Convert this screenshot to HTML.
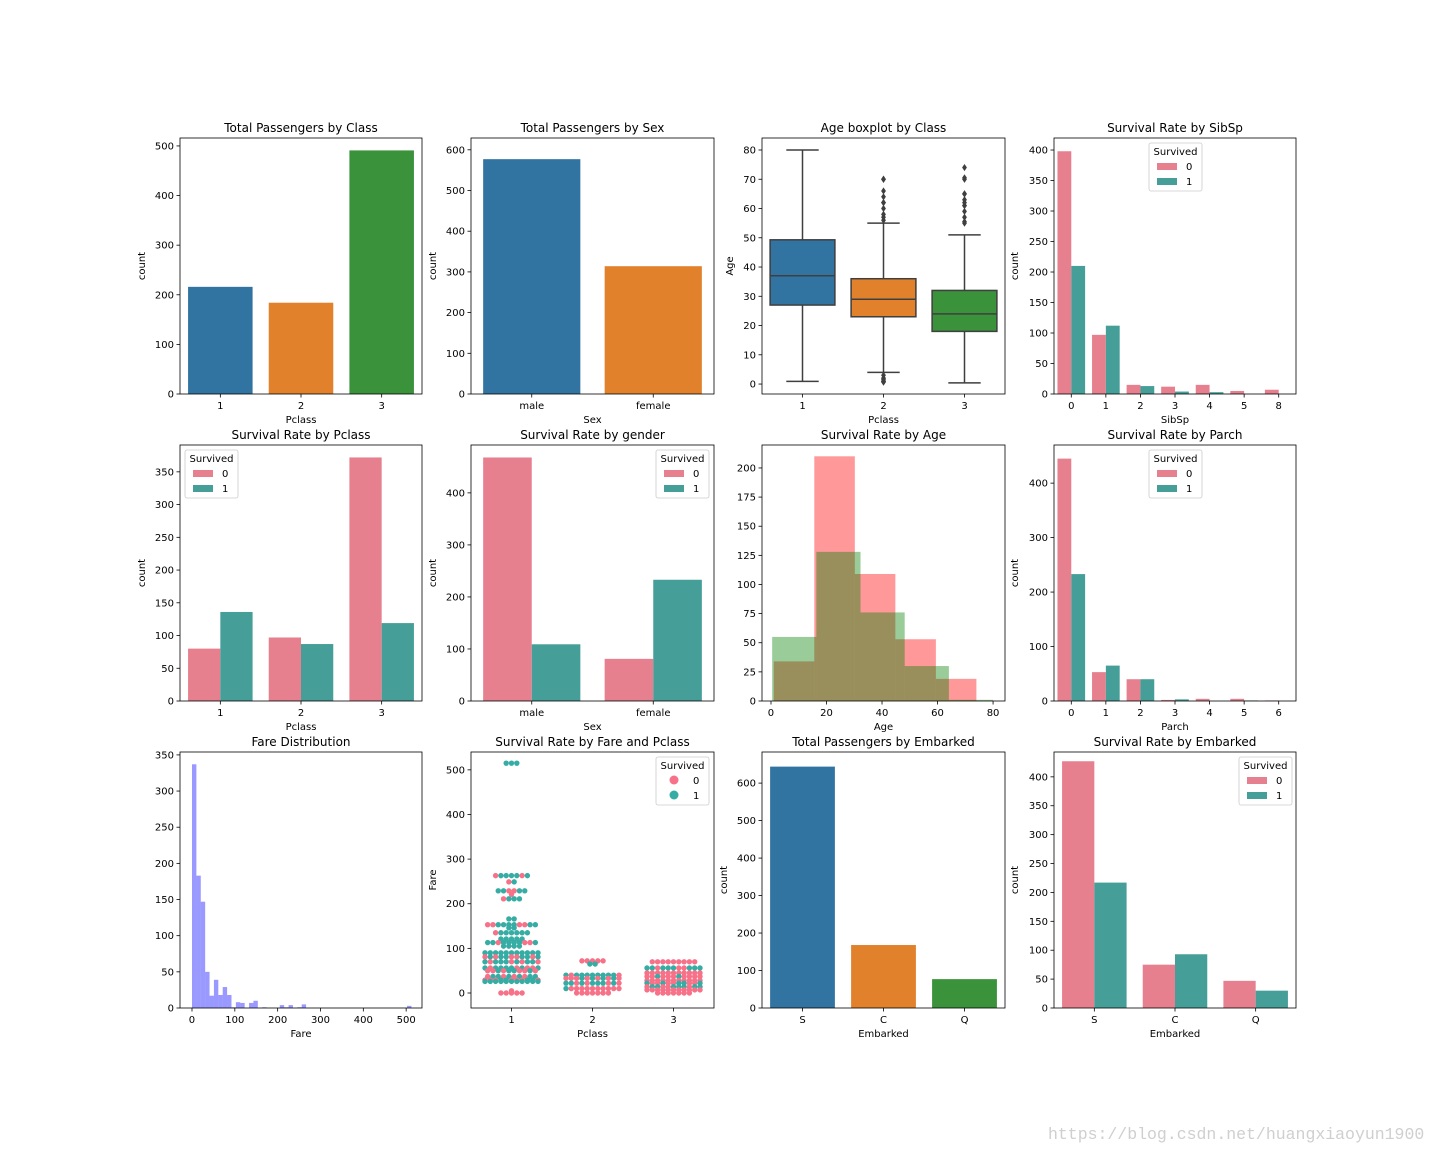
<!DOCTYPE html>
<html><head><meta charset="utf-8"><title>Titanic EDA</title>
<style>html,body{margin:0;padding:0;background:#fff}svg{display:block}text{font-family:"DejaVu Sans","Liberation Sans",sans-serif}</style>
</head><body>
<svg id="fig" xmlns="http://www.w3.org/2000/svg" width="1440" height="1152" viewBox="0 0 1440 1152">
<rect width="1440" height="1152" fill="#fff"/>
<text x="1048" y="1139" font-size="16.5" fill="#cfcfcf" style="font-family:'Liberation Mono',monospace">https://blog.csdn.net/huangxiaoyun1900</text>
</svg>
<script>
// ---------- data ----------
const classCats=['1','2','3'];
const classCounts=[216,184,491];
const sexCats=['male','female'];
const sexCounts=[577,314];
const boxQ1=[27,23,18];
const boxMed=[37,29,24];
const boxQ3=[49.3,36,32];
const boxLo=[0.92,4,0.42];
const boxHi=[80,55,51];
const box1Out=[];
const box2Out=[0.67,0.83,0.92,1,1.5,2,2,3,56,57,58,60,62,62,64,66,70,70];
const box3Out=[55,55.5,57,59,61,61,62,63,65,65,70,70.5,74];
const sibCats=['0','1','2','3','4','5','8'];
const sibDied=[398,97,15,12,15,5,7];
const sibSurv=[210,112,13,4,3,0,0];
const pclDied=[80,97,372];
const pclSurv=[136,87,119];
const sexDied=[468,81];
const sexSurv=[109,233];
const ageDiedRange=[1,74];
const ageDiedCounts=[34,210,109,53,19];
const ageSurvRange=[0.42,80];
const ageSurvCounts=[55,128,76,30,1];
const parchCats=['0','1','2','3','4','5','6'];
const parchDied=[445,53,40,2,4,4,1];
const parchSurv=[233,65,40,3,0,1,0];
const fareRange=[0,512.33];
const fareCounts=[337,183,147,50,17,39,18,29,18,1,8,7,0,7,10,0,1,0,0,0,4,1,4,0,1,5,0,0,0,0,0,0,0,0,0,0,0,0,0,0,0,0,0,0,0,0,0,0,0,3];
const swarm1Fares=[515,263,249,229,221,211,166,153,146,135,121,113,105,90,81,70,56,50,37,29,26,5,0];
const swarm1Surv=['111','0111101','01','110011','0','0111','11','0011110011','11','0111111','11111','1101111001','1111','11111111111','01011001101','10111010110','10111101001','0010110010','0110101011','00011000110','11111111111','0','00000'];
const swarm2Fares=[72,65,40,33,22,10,0];
const swarm2Surv=['00000','11','10111111110','00010101010','11010111010','10000000000','0000000'];
const swarm3Fares=[70,56,45,37,28,22,14,7,0];
const swarm3Surv=['000000000','11011100111','00000000000','00100010000','00000000000','10010011001','01100111011','00000000000','0000000'];
const embCats=['S','C','Q'];
const embCounts=[644,168,77];
const embDied=[427,75,47];
const embSurv=[217,93,30];

// ---------- helpers ----------
const svg=document.getElementById('fig');
const NS='http://www.w3.org/2000/svg';
const C3=['#3274a1','#e1812c','#3a923a'];
const PINK='#e6808f',TEAL='#459f98',SPINK='#f77189',STEAL='#36ada4';
function E(tag,at,par){const e=document.createElementNS(NS,tag);for(const k in at)e.setAttribute(k,at[k]);(par||svg).appendChild(e);return e;}
function T(txt,at,par){const e=E('text',at,par);e.textContent=txt;return e;}
const COLS=[[180,422],[471,714],[762,1005],[1054,1296]];
const ROWS=[[138,394],[445,701],[752,1008]];
function axes(name,c,r,xd,yd){
  const x0=COLS[c][0],x1=COLS[c][1],y0=ROWS[r][0],y1=ROWS[r][1];
  const g=E('g',{});
  
  
  return {g,x0,x1,y0,y1,sx:v=>x0+(v-xd[0])/(xd[1]-xd[0])*(x1-x0),sy:v=>y1-(v-yd[0])/(yd[1]-yd[0])*(y1-y0)};
}
function frame(a,title,xlab,ylab,yt,xtv,xtl,yoff){
  const g=a.g;
  yt.forEach(v=>{const y=a.sy(v);
    const tk=E('line',{x1:a.x0-3.5,x2:a.x0,y1:y,y2:y,stroke:'#000','stroke-width':0.8},g);
    
    
    const tl=T(String(v),{x:a.x0-6,y:y+3.5,'font-size':10,'text-anchor':'end'},g);
    
    });
  xtv.forEach((v,i)=>{const x=a.sx(v);
    const tk=E('line',{x1:x,x2:x,y1:a.y1,y2:a.y1+3.5,stroke:'#000','stroke-width':0.8},g);
    
    
    const tl=T(xtl[i],{x:x,y:a.y1+15,'font-size':10,'text-anchor':'middle'},g);
    
    });
  const fr=E('rect',{x:a.x0,y:a.y0,width:a.x1-a.x0,height:a.y1-a.y0,fill:'none',stroke:'#000','stroke-width':0.8},g);
  
  
  const t=T(title,{x:(a.x0+a.x1)/2,y:a.y0-6,'font-size':12,'text-anchor':'middle'},g);
  
  
  const xl=T(xlab,{x:(a.x0+a.x1)/2,y:a.y1+29,'font-size':10,'text-anchor':'middle'},g);
  
  
  const yx=a.x0-yoff,yy=(a.y0+a.y1)/2;
  const yl=T(ylab,{x:yx,y:yy,'font-size':10,'text-anchor':'middle',transform:'rotate(-90 '+yx+' '+yy+')'},g);
  
  
}
function rect(a,x0,x1,y0,y1,fill,name,op){
  const r=E('rect',{x:Math.min(a.sx(x0),a.sx(x1)),y:a.sy(y1),width:Math.abs(a.sx(x1)-a.sx(x0)),height:Math.max(0,a.sy(y0)-a.sy(y1)),fill:fill},a.g);
  if(op)r.setAttribute('fill-opacity',op);
  
  
  return r;
}
function legend(a,x,y,circ){
  const g=E('g',{},a.g);
  
  
  const b=E('rect',{x:x,y:y,width:53,height:48,rx:2,fill:'#fff','fill-opacity':0.8,stroke:'#ccc','stroke-width':0.8},g);
  
  
  const t=T('Survived',{x:x+26.5,y:y+12,'font-size':10,'text-anchor':'middle'},g);
  
  
  [[circ?SPINK:PINK,'0'],[circ?STEAL:TEAL,'1']].forEach((d,i)=>{
    const yy=y+23+i*15;
    let m;
    if(circ){m=E('circle',{cx:x+18,cy:yy,r:4.5,fill:d[0]},g);}
    else{m=E('rect',{x:x+8,y:yy-3,width:20,height:7,fill:d[0]},g);}
    
    
    const l=T(d[1],{x:x+37,y:yy+4,'font-size':10},g);
    
    
  });
}
function idx(n){return Array.from({length:n},(_,i)=>i);}
function countChart(name,c,r,cats,vals,ymax,yt,title,xlab,yoff){
  const a=axes(name,c,r,[-0.5,cats.length-0.5],[0,ymax]);
  vals.forEach((v,i)=>rect(a,i-0.4,i+0.4,0,v,C3[i%3],'bar-'+cats[i]));
  frame(a,title,xlab,'count',yt,idx(cats.length),cats,yoff);
  return a;
}
function hueChart(name,c,r,cats,d0,d1,ymax,yt,title,xlab,yoff,lx,ly){
  const a=axes(name,c,r,[-0.5,cats.length-0.5],[0,ymax]);
  cats.forEach((k,i)=>{rect(a,i-0.4,i,0,d0[i],PINK,'bar-'+k+'-died');rect(a,i,i+0.4,0,d1[i],TEAL,'bar-'+k+'-survived');});
  frame(a,title,xlab,'count',yt,idx(cats.length),cats,yoff);
  legend(a,lx,ly,false);
  return a;
}
function hist(a,range,counts,fill,name){
  const w=(range[1]-range[0])/counts.length;
  counts.forEach((v,i)=>{if(v>0)rect(a,range[0]+i*w,range[0]+(i+1)*w,0,v,fill,name+'-'+i,0.4);});
}
function rng(a,b,s){const o=[];for(let v=a;v<=b+1e-9;v+=s)o.push(v);return o;}

// Row 1
countChart('class-count-chart',0,0,classCats,classCounts,516,rng(0,500,100),'Total Passengers by Class','Pclass',35);
countChart('sex-count-chart',1,0,sexCats,sexCounts,629,rng(0,600,100),'Total Passengers by Sex','Sex',35);
(function(){
  const a=axes('age-boxplot-chart',2,0,[-0.5,2.5],[-3.4,84.1]);
  const outs=[box1Out,box2Out,box3Out];
  classCats.forEach((k,i)=>{
    const L='#3f3f3f';
    const cx=a.sx(i),hw=a.sx(0.4)-a.sx(0),cw=hw*0.5;
    const w1=E('line',{x1:cx,x2:cx,y1:a.sy(boxLo[i]),y2:a.sy(boxQ1[i]),stroke:L,'stroke-width':1.5},a.g);
    
    
    const w2=E('line',{x1:cx,x2:cx,y1:a.sy(boxQ3[i]),y2:a.sy(boxHi[i]),stroke:L,'stroke-width':1.5},a.g);
    
    
    [boxLo[i],boxHi[i]].forEach(v=>{const cp=E('line',{x1:cx-cw,x2:cx+cw,y1:a.sy(v),y2:a.sy(v),stroke:L,'stroke-width':1.5},a.g);
      
      });
    const b=E('rect',{x:cx-hw,y:a.sy(boxQ3[i]),width:2*hw,height:a.sy(boxQ1[i])-a.sy(boxQ3[i]),fill:C3[i],stroke:L,'stroke-width':1.5},a.g);
    
    
    const m=E('line',{x1:cx-hw,x2:cx+hw,y1:a.sy(boxMed[i]),y2:a.sy(boxMed[i]),stroke:L,'stroke-width':1.5},a.g);
    
    
    outs[i].forEach(v=>{const y=a.sy(v);
      const o=E('path',{d:`M${cx} ${y-3.6}L${cx+2.4} ${y}L${cx} ${y+3.6}L${cx-2.4} ${y}Z`,fill:L},a.g);
      
      });
  });
  frame(a,'Age boxplot by Class','Pclass','Age',rng(0,80,10),[0,1,2],classCats,29);
})();
hueChart('sibsp-survival-chart',3,0,sibCats,sibDied,sibSurv,419.7,rng(0,400,50),'Survival Rate by SibSp','SibSp',36,1149,143);

// Row 2
hueChart('pclass-survival-chart',0,1,classCats,pclDied,pclSurv,391,rng(0,350,50),'Survival Rate by Pclass','Pclass',35,185,450);
hueChart('gender-survival-chart',1,1,sexCats,sexDied,sexSurv,492,rng(0,400,100),'Survival Rate by gender','Sex',35,656,450);
(function(){
  const a=axes('age-hist-chart',2,1,[-3.24,84.3],[0,219.7]);
  hist(a,ageDiedRange,ageDiedCounts,'#ff0000','age-died-bin');
  hist(a,ageSurvRange,ageSurvCounts,'#008000','age-survived-bin');
  frame(a,'Survival Rate by Age','Age','',rng(0,200,25),[0,20,40,60,80],['0','20','40','60','80'],35);
})();
hueChart('parch-survival-chart',3,1,parchCats,parchDied,parchSurv,470,rng(0,400,100),'Survival Rate by Parch','Parch',36,1149,450);

// Row 3
(function(){
  const a=axes('fare-hist-chart',0,2,[-28,537],[0,354]);
  hist(a,fareRange,fareCounts,'#0000ff','fare-bin');
  frame(a,'Fare Distribution','Fare','',rng(0,350,50),rng(0,500,100),['0','100','200','300','400','500'],35);
})();
(function(){
  const a=axes('fare-swarm-chart',1,2,[-0.5,2.5],[-33.6,540]);
  const F=[swarm1Fares,swarm2Fares,swarm3Fares],S=[swarm1Surv,swarm2Surv,swarm3Surv];
  F.forEach((fs,c)=>{
    const cx=a.sx(c),half=a.sx(0.4)-a.sx(0);
    fs.forEach((f,j)=>{const s=S[c][j],n=s.length;
      for(let i=0;i<n;i++){
        let x=cx+(i-(n-1)/2)*5.3;x=Math.max(cx-half,Math.min(cx+half,x));
        const p=E('circle',{cx:x,cy:a.sy(f),r:2.7,fill:s[i]==='1'?STEAL:SPINK},a.g);
        
        
      }});
  });
  frame(a,'Survival Rate by Fare and Pclass','Pclass','Fare',rng(0,500,100),[0,1,2],classCats,35);
  legend(a,656,757,true);
})();
countChart('embarked-count-chart',2,2,embCats,embCounts,683,rng(0,600,100),'Total Passengers by Embarked','Embarked',35);
hueChart('embarked-survival-chart',3,2,embCats,embDied,embSurv,443,rng(0,400,50),'Survival Rate by Embarked','Embarked',36,1239,757);
</script>
</body></html>
